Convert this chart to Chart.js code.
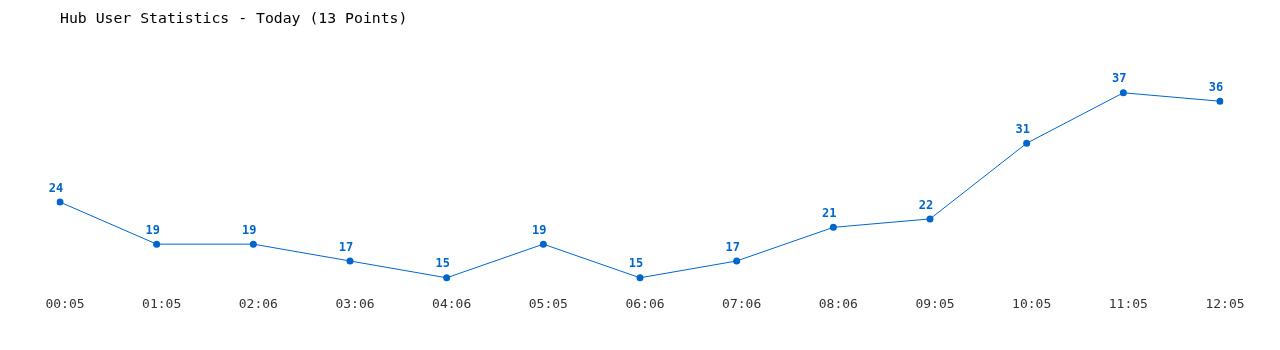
<!DOCTYPE html>
<html>
<head>
<meta charset="utf-8">
<title>Hub User Statistics</title>
<script src="https://cdn.jsdelivr.net/npm/chart.js@4/dist/chart.umd.min.js"></script>
<style>
    html, body { margin: 0; padding: 0; background: #ffffff; }
    #wrap { width: 1280px; height: 350px; }
</style>
</head>
<body>
<div id="wrap"><canvas id="hubChart" width="1280" height="350"></canvas></div>
<script>
const horas = ['00:05', '01:05', '02:06', '03:06', '04:06', '05:05', '06:06', '07:06', '08:06', '09:05', '10:05', '11:05', '12:05'];
const usuarios = [24, 19, 19, 17, 15, 19, 15, 17, 21, 22, 31, 37, 36];
const titulo = 'Hub User Statistics - Today (13 Points)';

const azul = '#0066cc';
const fuente = '"DejaVu Sans Mono", "Liberation Mono", monospace';

// Etiquetas de valor encima de cada punto
const etiquetasValor = {
    id: 'etiquetasValor',
    afterDatasetsDraw(chart) {
        const ctx = chart.ctx;
        const meta = chart.getDatasetMeta(0);
        ctx.save();
        ctx.font = 'bold 12px ' + fuente;
        ctx.fillStyle = azul;
        ctx.textAlign = 'center';
        ctx.textBaseline = 'middle';
        meta.data.forEach((punto, i) => {
            ctx.fillText(String(usuarios[i]), punto.x - 4, punto.y - 13.5);
        });
        ctx.restore();
    }
};

const ctx = document.getElementById('hubChart').getContext('2d');
new Chart(ctx, {
    type: 'line',
    data: {
        labels: horas,
        datasets: [{
            data: usuarios,
            borderColor: azul,
            backgroundColor: azul,
            borderWidth: 1,
            pointRadius: 3.5,
            pointHoverRadius: 3.5,
            pointBackgroundColor: azul,
            pointBorderWidth: 0,
            tension: 0,
            fill: false
        }]
    },
    options: {
        responsive: false,
        animation: false,
        devicePixelRatio: 1,
        layout: {
            padding: { left: 60, right: 60, top: 10, bottom: 32 }
        },
        plugins: {
            legend: { display: false },
            tooltip: { enabled: false },
            title: {
                display: true,
                text: titulo,
                align: 'start',
                color: '#000000',
                font: { family: fuente, size: 14.8, weight: 'normal' },
                padding: { top: 0, bottom: 23 }
            }
        },
        scales: {
            x: {
                grid: { display: false, drawTicks: false },
                border: { display: false },
                ticks: {
                    color: '#333333',
                    padding: 6,
                    labelOffset: 5,
                    font: { family: fuente, size: 13 },
                    maxRotation: 0,
                    autoSkip: false
                }
            },
            y: {
                display: false,
                min: 13.5,
                max: 42
            }
        }
    },
    plugins: [etiquetasValor]
});
</script>
</body>
</html>
